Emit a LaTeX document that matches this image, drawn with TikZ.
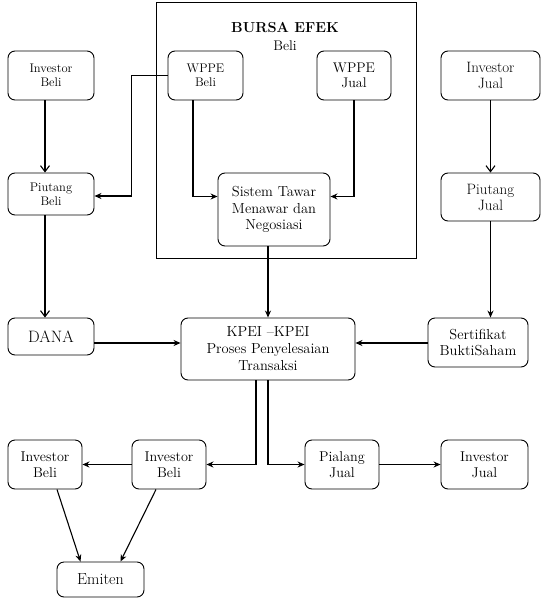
\documentclass[tikz,border=0pt]{standalone}
\usepackage{fontspec}
\usetikzlibrary{arrows.meta}
\begin{document}
\begin{tikzpicture}[x=1pt,y=-1pt,
  box/.style={draw, line width=0.9pt, rounded corners=7pt, align=center, inner sep=0pt},
  ln/.style={line width=1.1pt, -{Stealth[length=7pt,width=6pt]}},
  lv/.style={line width=1.1pt, -{Straight Barb[length=6pt,width=9pt]}}]
\useasboundingbox (0,0) rectangle (547,602);
% Bursa frame
\draw[line width=0.9pt] (156,2) rectangle (416,258);
\node[font=\fontsize{14.5}{16}\selectfont\bfseries] (title) at (285,28) {BURSA EFEK};
\node[font=\fontsize{14}{16}\selectfont] (titleb) at (285,46) {Beli};
% nodes
\node[box,font=\fontsize{12.5}{14}\selectfont,minimum width=86,minimum height=49] (ibt) at (51,75.5) {Investor\\Beli};
\node[box,font=\fontsize{12.5}{14}\selectfont,minimum width=86,minimum height=42] (pb) at (51,194) {Piutang\\Beli};
\node[box,font=\fontsize{16.5}{18}\selectfont,minimum width=86,minimum height=37] (dana) at (51,336.5) {DANA};
\node[box,font=\fontsize{12.5}{14}\selectfont,minimum width=75,minimum height=49] (wb) at (205.5,75.5) {WPPE\\Beli};
\node[box,font=\fontsize{14}{15.5}\selectfont,minimum width=74,minimum height=49] (wj) at (354,75.5) {WPPE\\Jual};
\node[box,font=\fontsize{14.5}{16.5}\selectfont,minimum width=112,minimum height=73] (st) at (274,209.5) {Sistem Tawar\\Menawar dan\\Negosiasi};
\node[box,font=\fontsize{15}{16}\selectfont,minimum width=99,minimum height=49] (ijt) at (490.5,75.5) {Investor\\Jual};
\node[box,font=\fontsize{15}{16}\selectfont,minimum width=99,minimum height=48] (pjl) at (490.5,197) {Piutang\\Jual};
\node[box,font=\fontsize{14.5}{17}\selectfont,minimum width=174,minimum height=62] (kp) at (268,349) {KPEI --KPEI\\Proses Penyelesaian\\Transaksi};
\node[box,font=\fontsize{14.5}{16}\selectfont,minimum width=100,minimum height=49] (sf) at (478,342.5) {Sertifikat\\BuktiSaham};
\node[box,font=\fontsize{14.2}{16}\selectfont,minimum width=74,minimum height=49] (ib1) at (45,464.5) {Investor\\Beli};
\node[box,font=\fontsize{14.2}{16}\selectfont,minimum width=74,minimum height=49] (ib2) at (169,464.5) {Investor\\Beli};
\node[box,font=\fontsize{14.2}{16}\selectfont,minimum width=74,minimum height=49] (pj) at (342,464.5) {Pialang\\Jual};
\node[box,font=\fontsize{14.2}{16}\selectfont,minimum width=87,minimum height=49] (ij2) at (484.5,464.5) {Investor\\Jual};
\node[box,font=\fontsize{16}{18}\selectfont,minimum width=87,minimum height=35] (em) at (100.5,579.5) {Emiten};
\coordinate (h1) at (0,343);
% connectors
\draw[lv] ([xshift=-6pt]ibt.south) -- ([xshift=-6pt]pb.north);
\draw[lv] ([xshift=-6pt]pb.south) -- ([xshift=-6pt]dana.north);
\draw[ln] (wb.west) -- ++(-36,0) |- ([yshift=-2pt]pb.east);
\draw[ln] ([xshift=-12.5pt]wb.south) |- ([yshift=13pt]st.west);
\draw[ln] (wj.south) |- ([yshift=13pt]st.east);
\draw[ln] ([xshift=-6pt]st.south) -- (kp.north);
\draw[lv] (ijt.south) -- (pjl.north);
\draw[ln] (pjl.south) -- (sf.north -| pjl.south);
\draw[ln] (dana.east |- h1) -- (kp.west |- h1);
\draw[ln] (sf.west |- h1) -- (kp.east |- h1);
\draw[ln] ([xshift=-12pt]kp.south) |- (ib2.east);
\draw[ln] (kp.south) |- (pj.west);
\draw[ln] (pj.east) -- (ij2.west);
\draw[ln] (ib2.west) -- (ib1.east);
\draw[ln] ([xshift=12pt]ib1.south) -- ([xshift=-20pt]em.north);
\draw[ln] ([xshift=-13pt]ib2.south) -- ([xshift=20pt]em.north);
\end{tikzpicture}
\end{document}
